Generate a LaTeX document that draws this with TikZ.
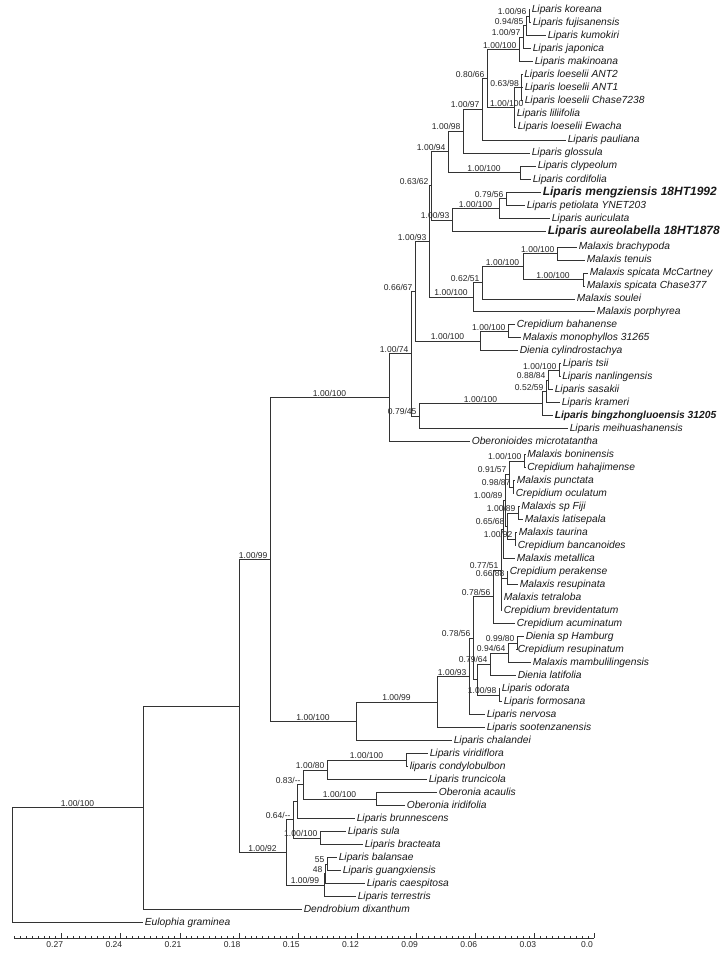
\documentclass[tikz,border=0pt]{standalone}
\usepackage{fontspec}
\setmainfont{Liberation Sans}
\begin{document}
\begin{tikzpicture}[x=0.75pt,y=-0.75pt,line width=0.65pt,draw=black!80]
\tikzstyle{taxon}=[anchor=west,inner sep=1pt,text=black!90,text height=5.8pt,text depth=1.6pt,font=\fontsize{7.7}{8}\selectfont\itshape]
\tikzstyle{newtaxon}=[taxon,text height=6.8pt,text depth=1.9pt,font=\fontsize{9}{10}\selectfont\bfseries\itshape]
\tikzstyle{newtaxonsmall}=[taxon,font=\fontsize{7.7}{8}\selectfont\bfseries\itshape]
\tikzstyle{supp}=[inner sep=0.6pt,text=black!85,font=\fontsize{6.4}{7}\selectfont]
\tikzstyle{suppr}=[supp,pos=1,anchor=south east,xshift=-1pt]
\tikzstyle{suppc}=[supp,pos=0.75,anchor=south]

\useasboundingbox (0,0) rectangle (728,954);

% taxa
\node[taxon] (koreana)      at (530,9.5)   {Liparis koreana};
\node[taxon] (fujisanensis) at (531,22.6)  {Liparis fujisanensis};
\node[taxon] (kumokiri)     at (546,35.6)  {Liparis kumokiri};
\node[taxon] (japonica)     at (531,48.7)  {Liparis japonica};
\node[taxon] (makinoana)    at (533,61.7)  {Liparis makinoana};
\node[taxon] (loeANTtwo)    at (522.5,74.8) {Liparis loeselii ANT2};
\node[taxon] (loeANTone)    at (523,87.8)  {Liparis loeselii ANT1};
\node[taxon] (loeChase)     at (523,100.9) {Liparis loeselii Chase7238};
\node[taxon] (liliifolia)   at (515,113.9) {Liparis liliifolia};
\node[taxon] (loeEwacha)    at (516,127.0) {Liparis loeselii Ewacha};
\node[taxon] (pauliana)     at (566,140.0) {Liparis pauliana};
\node[taxon] (glossula)     at (530,153.1) {Liparis glossula};
\node[taxon] (clypeolum)    at (536,166.1) {Liparis clypeolum};
\node[taxon] (cordifolia)   at (531,179.2) {Liparis cordifolia};
\node[newtaxon] (mengziensis) at (541,192.2) {Liparis mengziensis 18HT1992};
\node[taxon] (petiolata)    at (525,205.3) {Liparis petiolata YNET203};
\node[taxon] (auriculata)   at (550,218.3) {Liparis auriculata};
\node[newtaxon] (aureolabella) at (546,231.4) {Liparis aureolabella 18HT1878};
\node[taxon] (brachypoda)   at (577,247.0) {Malaxis brachypoda};
\node[taxon] (tenuis)       at (585,260.0) {Malaxis tenuis};
\node[taxon] (spicataMcC)   at (588,273.0) {Malaxis spicata McCartney};
\node[taxon] (spicataCh)    at (585,286.0) {Malaxis spicata Chase377};
\node[taxon] (soulei)       at (575,299.0) {Malaxis soulei};
\node[taxon] (porphyrea)    at (595,311.9) {Malaxis porphyrea};
\node[taxon] (bahanense)    at (515,324.9) {Crepidium bahanense};
\node[taxon] (monophyllos)  at (521,337.9) {Malaxis monophyllos 31265};
\node[taxon] (cylindro)     at (518,350.9) {Dienia cylindrostachya};
\node[taxon] (tsii)         at (561,363.9) {Liparis tsii};
\node[taxon] (nanlingensis) at (560.5,376.9) {Liparis nanlingensis};
\node[taxon] (sasakii)      at (553,389.9) {Liparis sasakii};
\node[taxon] (krameri)      at (560,402.9) {Liparis krameri};
\node[newtaxonsmall] (bingzhong) at (553,415.9) {Liparis bingzhongluoensis 31205};
\node[taxon] (meihua)       at (568,428.9) {Liparis meihuashanensis};
\node[taxon] (oberonioides) at (470,441.9) {Oberonioides microtatantha};
\node[taxon] (boninensis)   at (525.5,454.8) {Malaxis boninensis};
\node[taxon] (hahajimense)  at (525.5,467.8) {Crepidium hahajimense};
\node[taxon] (punctata)     at (515,480.8) {Malaxis punctata};
\node[taxon] (oculatum)     at (514,493.8) {Crepidium oculatum};
\node[taxon] (spFiji)       at (519.5,506.8) {Malaxis sp Fiji};
\node[taxon] (latisepala)   at (523,519.8) {Malaxis latisepala};
\node[taxon] (taurina)      at (517,532.8) {Malaxis taurina};
\node[taxon] (bancanoides)  at (516,545.8) {Crepidium bancanoides};
\node[taxon] (metallica)    at (515,558.8) {Malaxis metallica};
\node[taxon] (perakense)    at (508,571.8) {Crepidium perakense};
\node[taxon] (resupinata)   at (518,584.8) {Malaxis resupinata};
\node[taxon] (tetraloba)    at (502,597.7) {Malaxis tetraloba};
\node[taxon] (brevidentatum) at (502,610.7) {Crepidium brevidentatum};
\node[taxon] (acuminatum)   at (515,623.7) {Crepidium acuminatum};
\node[taxon] (spHamburg)    at (524,636.7) {Dienia sp Hamburg};
\node[taxon] (cresupinatum) at (516,649.7) {Crepidium resupinatum};
\node[taxon] (mambulilingensis) at (531,662.7) {Malaxis mambulilingensis};
\node[taxon] (latifolia)    at (516,675.7) {Dienia latifolia};
\node[taxon] (odorata)      at (500,688.7) {Liparis odorata};
\node[taxon] (formosana)    at (502,701.7) {Liparis formosana};
\node[taxon] (nervosa)      at (485,714.7) {Liparis nervosa};
\node[taxon] (sootenzanensis) at (485,727.7) {Liparis sootenzanensis};
\node[taxon] (chalandei)    at (452,740.7) {Liparis chalandei};
\node[taxon] (viridiflora)  at (428,753.7) {Liparis viridiflora};
\node[taxon] (condylobulbon) at (408,766.7) {liparis condylobulbon};
\node[taxon] (truncicola)   at (427,779.7) {Liparis truncicola};
\node[taxon] (acaulis)      at (437,792.6) {Oberonia acaulis};
\node[taxon] (iridifolia)   at (405,805.6) {Oberonia iridifolia};
\node[taxon] (brunnescens)  at (355,818.6) {Liparis brunnescens};
\node[taxon] (sula)         at (346,831.6) {Liparis sula};
\node[taxon] (bracteata)    at (363,844.6) {Liparis bracteata};
\node[taxon] (balansae)     at (337,857.6) {Liparis balansae};
\node[taxon] (guangxiensis) at (341,870.6) {Liparis guangxiensis};
\node[taxon] (caespitosa)   at (365,883.6) {Liparis caespitosa};
\node[taxon] (terrestris)   at (356,896.6) {Liparis terrestris};
\node[taxon] (dixanthum)    at (302,909.6) {Dendrobium dixanthum};
\node[taxon] (graminea)     at (143,922.6) {Eulophia graminea};

% inner nodes
\coordinate (n1) at (529,16.05);
\coordinate (n2) at (526,25.8);
\coordinate (n3) at (523,37.25);
\coordinate (n4) at (519,49.5);
\coordinate (n5) at (521.5,87.85);
\coordinate (n6) at (514,107.4);
\coordinate (n7) at (487,78.45);
\coordinate (n8) at (482,109.2);
\coordinate (n9) at (463,131.15);
\coordinate (n10) at (520,172.65);
\coordinate (n11) at (448,151.9);
\coordinate (n12) at (506,198.75);
\coordinate (n13) at (499,208.5);
\coordinate (n14) at (452,219.95);
\coordinate (n15) at (431,185.9);
\coordinate (m1) at (557,253.5);
\coordinate (m2) at (583,279.5);
\coordinate (m3) at (523,266.5);
\coordinate (m4) at (482,282.75);
\coordinate (m5) at (473,297.3);
\coordinate (n16) at (429,241.6);
\coordinate (c1) at (508,331.4);
\coordinate (c2) at (480,341.15);
\coordinate (n17) at (415,291.4);
\coordinate (t1) at (559,370.4);
\coordinate (t2) at (548,380.15);
\coordinate (t3) at (546,391.5);
\coordinate (t4) at (542,403.7);
\coordinate (t5) at (419,416.3);
\coordinate (n18) at (411,353.85);
\coordinate (n19) at (389,397.9);
\coordinate (a1) at (524,461.3);
\coordinate (a2) at (513,487.3);
\coordinate (a3) at (509,474.3);
\coordinate (a4) at (518,513.3);
\coordinate (a5) at (515,539.3);
\coordinate (a6) at (507,526.3);
\coordinate (a7) at (505,500.3);
\coordinate (a8) at (503,529.55);
\coordinate (a9) at (507,578.3);
\coordinate (a10) at (501,570.1);
\coordinate (a11) at (493,596.9);
\coordinate (d1) at (517,643.2);
\coordinate (d2) at (508,652.95);
\coordinate (d3) at (490,664.3);
\coordinate (d4) at (499,695.2);
\coordinate (d5) at (477,679.75);
\coordinate (a12) at (473,638.3);
\coordinate (a13) at (469,676.5);
\coordinate (a14) at (437,702.1);
\coordinate (a15) at (356,721.4);
\coordinate (n20) at (270,559.65);
\coordinate (l1) at (406,760.2);
\coordinate (l2) at (327,769.95);
\coordinate (l3) at (376,799.1);
\coordinate (l4) at (303,784.5);
\coordinate (l5) at (297,801.55);
\coordinate (l6) at (320,838.1);
\coordinate (l7) at (293,819.8);
\coordinate (l8) at (327,864.1);
\coordinate (l9) at (325,873.85);
\coordinate (l10) at (324,885.2);
\coordinate (l11) at (286,852.5);
\coordinate (n21) at (239,706.1);
\coordinate (n22) at (143,807.85);
\coordinate (root) at (12,865.2);

% Liparis upper clade
\draw (n1) |- (koreana);
\draw (n1) |- (fujisanensis);
\draw (n2) |- (n1) node[suppr] {1.00/96};
\draw (n2) |- (kumokiri);
\draw (n3) |- (n2) node[suppr] {0.94/85};
\draw (n3) |- (japonica);
\draw (n4) |- (n3) node[suppr] {1.00/97};
\draw (n4) |- (makinoana);
\draw (n7) |- (n4) node[suppr] {1.00/100};
\draw (n5) |- (loeANTtwo);
\draw (n5) |- (loeANTone);
\draw (n5) |- (loeChase);
\draw (n6) |- (n5) node[suppr] {0.63/98};
\draw (n6) |- (liliifolia);
\draw (n6) |- (loeEwacha);
\draw (n7) |- (n6) node[suppr,xshift=9pt] {1.00/100};
\draw (n8) |- (n7) node[suppr] {0.80/66};
\draw (n8) |- (pauliana);
\draw (n9) |- (n8) node[suppr] {1.00/97};
\draw (n9) |- (glossula);
\draw (n11) |- (n9) node[suppr] {1.00/98};
\draw (n10) |- (clypeolum);
\draw (n10) |- (cordifolia);
\draw (n11) |- (n10) node[suppc] {1.00/100};
\draw (n15) |- (n11) node[suppr] {1.00/94};
\draw (n12) |- (mengziensis);
\draw (n12) |- (petiolata);
\draw (n13) |- (n12) node[suppr] {0.79/56};
\draw (n13) |- (auriculata);
\draw (n14) |- (n13) node[suppc] {1.00/100};
\draw (n14) |- (aureolabella);
\draw (n15) |- (n14) node[suppr] {1.00/93};
\draw (n16) |- (n15) node[suppr] {0.63/62};

% Malaxis
\draw (m1) |- (brachypoda);
\draw (m1) |- (tenuis);
\draw (m2) |- (spicataMcC);
\draw (m2) |- (spicataCh);
\draw (m3) |- (m1) node[suppr] {1.00/100};
\draw (m3) |- (m2) node[suppc] {1.00/100};
\draw (m4) |- (m3) node[suppc] {1.00/100};
\draw (m4) |- (soulei);
\draw (m5) |- (m4) node[suppr] {0.62/51};
\draw (m5) |- (porphyrea);
\draw (n16) |- (m5) node[suppc] {1.00/100};
\draw (n17) |- (n16) node[suppr] {1.00/93};
\draw (c1) |- (bahanense);
\draw (c1) |- (monophyllos);
\draw (c2) |- (c1) node[suppr] {1.00/100};
\draw (c2) |- (cylindro);
\draw (n17) |- (c2) node[suppc] {1.00/100};
\draw (n18) |- (n17) node[suppr] {0.66/67};
\draw (t1) |- (tsii);
\draw (t1) |- (nanlingensis);
\draw (t2) |- (t1) node[suppr] {1.00/100};
\draw (t2) |- (sasakii);
\draw (t3) |- (t2) node[suppr] {0.88/84};
\draw (t3) |- (krameri);
\draw (t4) |- (t3) node[suppr] {0.52/59};
\draw (t4) |- (bingzhong);
\draw (t5) |- (t4) node[suppc] {1.00/100};
\draw (t5) |- (meihua);
\draw (n18) |- (t5) node[suppr] {0.79/45};
\draw (n19) |- (n18) node[suppr] {1.00/74};
\draw (n19) |- (oberonioides);
\draw (n20) |- (n19) node[suppc] {1.00/100};

% Malaxis, Crepidium and Dienia
\draw (a1) |- (boninensis);
\draw (a1) |- (hahajimense);
\draw (a3) |- (a1) node[suppr] {1.00/100};
\draw (a2) |- (punctata);
\draw (a2) |- (oculatum);
\draw (a3) |- (a2) node[suppr] {0.98/87};
\draw (a7) |- (a3) node[suppr] {0.91/57};
\draw (a4) |- (spFiji);
\draw (a4) |- (latisepala);
\draw (a6) |- (a4) node[suppr] {1.00/89};
\draw (a5) |- (taurina);
\draw (a5) |- (bancanoides);
\draw (a6) |- (a5) node[suppr] {1.00/92};
\draw (a7) |- (a6) node[suppr] {0.65/68};
\draw (a8) |- (a7) node[suppr] {1.00/89};
\draw (a8) |- (metallica);
\draw (a10) |- (a8);
\draw (a9) |- (perakense);
\draw (a9) |- (resupinata);
\draw (a10) |- (a9) node[suppr] {0.66/88};
\draw (a10) |- (tetraloba);
\draw (a10) |- (brevidentatum);
\draw (a11) |- (a10) node[suppr] {0.77/51};
\draw (a11) |- (acuminatum);
\draw (a12) |- (a11) node[suppr] {0.78/56};
\draw (d1) |- (spHamburg);
\draw (d1) |- (cresupinatum);
\draw (d2) |- (d1) node[suppr] {0.99/80};
\draw (d2) |- (mambulilingensis);
\draw (d3) |- (d2) node[suppr] {0.94/64};
\draw (d3) |- (latifolia);
\draw (d5) |- (d3) node[suppr] {0.79/64};
\draw (d4) |- (odorata);
\draw (d4) |- (formosana);
\draw (d5) |- (d4) node[suppr] {1.00/98};
\draw (a12) |- (d5);
\draw (a13) |- (a12) node[suppr] {0.78/56};
\draw (a13) |- (nervosa);
\draw (a14) |- (a13) node[suppr] {1.00/93};
\draw (a14) |- (sootenzanensis);
\draw (a15) |- (a14) node[suppc] {1.00/99};
\draw (a15) |- (chalandei);
\draw (n20) |- (a15) node[suppc] {1.00/100};
\draw (n21) |- (n20) node[suppr] {1.00/99};

% Liparis lower clade
\draw (l1) |- (viridiflora);
\draw (l1) |- (condylobulbon);
\draw (l2) |- (l1) node[suppc] {1.00/100};
\draw (l2) |- (truncicola);
\draw (l4) |- (l2) node[suppr] {1.00/80};
\draw (l3) |- (acaulis);
\draw (l3) |- (iridifolia);
\draw (l4) |- (l3) node[suppc] {1.00/100};
\draw (l5) |- (l4) node[suppr] {0.83/-{}-};
\draw (l5) |- (brunnescens);
\draw (l7) |- (l5);
\draw (l6) |- (sula);
\draw (l6) |- (bracteata);
\draw (l7) |- (l6) node[suppr] {1.00/100};
\draw (l11) |- (l7) node[suppr] {0.64/-{}-};
\draw (l8) |- (balansae);
\draw (l8) |- (guangxiensis);
\draw (l9) |- (l8) node[suppr] {55};
\draw (l9) |- (caespitosa);
\draw (l10) |- (l9) node[suppr] {48};
\draw (l10) |- (terrestris);
\draw (l11) |- (l10) node[suppc] {1.00/99};
\draw (n21) |- (l11) node[suppc] {1.00/92};
\draw (n22) |- (n21);
\draw (n22) |- (dixanthum);
\draw (root) |- (n22) node[suppc] {1.00/100};
\draw (root) |- (graminea);

% scale axis
\draw (14,938) -- (594,938);
\foreach \k in {0,...,98}
  \draw ({594-5.914*\k},938) -- ++(0,-2.5);
\foreach \k/\t in {0/0.0,1/0.03,2/0.06,3/0.09,4/0.12,5/0.15,6/0.18,7/0.21,8/0.24,9/0.27}{
  \draw ({594-59.14*\k},938) -- ++(0,-5.5);
  \node[supp,anchor=north] (tick\k) at ({594-59.14*\k-7},940.5) {\t};
}
\end{tikzpicture}
\end{document}
